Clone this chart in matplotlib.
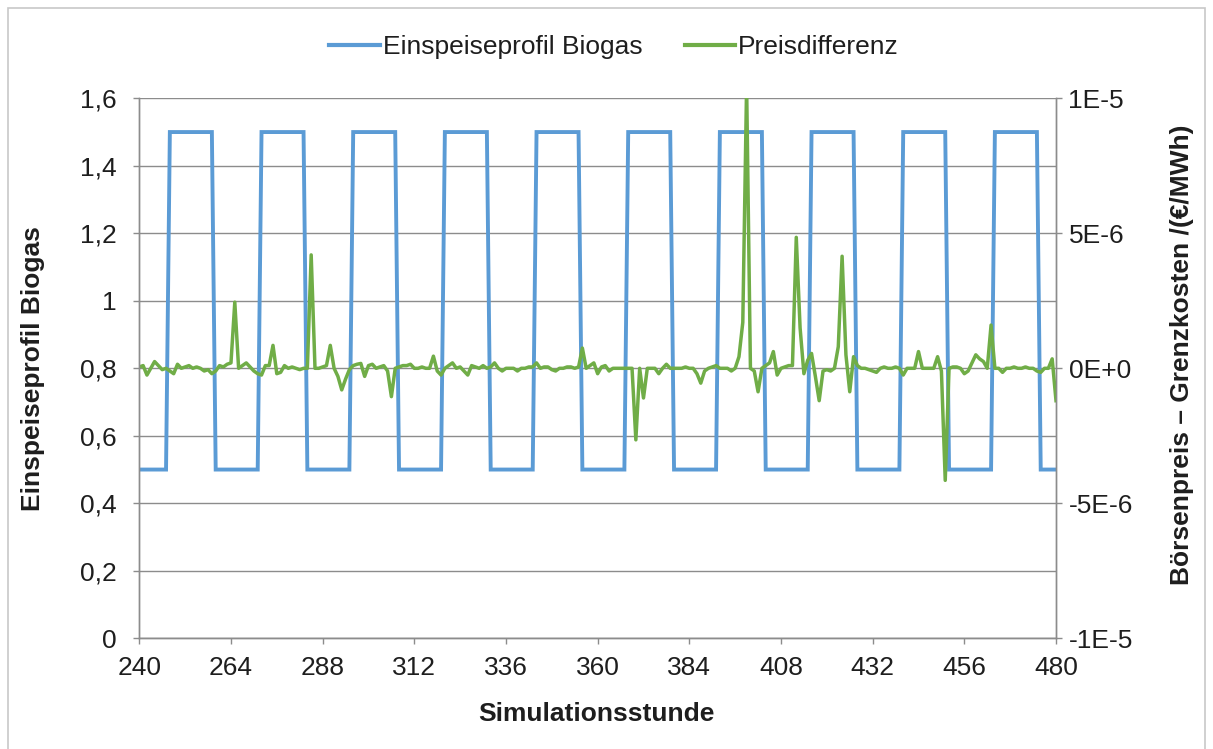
import matplotlib
matplotlib.use("Agg")
import matplotlib.pyplot as plt
from matplotlib.patches import Rectangle

# ---------------- data ----------------
hours = list(range(240, 481))

# Einspeiseprofil Biogas (left axis), one value per simulation hour 240..480
einspeiseprofil = [
    0.5, 0.5, 0.5, 0.5, 0.5, 0.5, 0.5, 0.5,                                  # 240-247
    1.5, 1.5, 1.5, 1.5, 1.5, 1.5, 1.5, 1.5, 1.5, 1.5, 1.5, 1.5,              # 248-259
    0.5, 0.5, 0.5, 0.5, 0.5, 0.5, 0.5, 0.5, 0.5, 0.5, 0.5, 0.5,              # 260-271
    1.5, 1.5, 1.5, 1.5, 1.5, 1.5, 1.5, 1.5, 1.5, 1.5, 1.5, 1.5,              # 272-283
    0.5, 0.5, 0.5, 0.5, 0.5, 0.5, 0.5, 0.5, 0.5, 0.5, 0.5, 0.5,              # 284-295
    1.5, 1.5, 1.5, 1.5, 1.5, 1.5, 1.5, 1.5, 1.5, 1.5, 1.5, 1.5,              # 296-307
    0.5, 0.5, 0.5, 0.5, 0.5, 0.5, 0.5, 0.5, 0.5, 0.5, 0.5, 0.5,              # 308-319
    1.5, 1.5, 1.5, 1.5, 1.5, 1.5, 1.5, 1.5, 1.5, 1.5, 1.5, 1.5,              # 320-331
    0.5, 0.5, 0.5, 0.5, 0.5, 0.5, 0.5, 0.5, 0.5, 0.5, 0.5, 0.5,              # 332-343
    1.5, 1.5, 1.5, 1.5, 1.5, 1.5, 1.5, 1.5, 1.5, 1.5, 1.5, 1.5,              # 344-355
    0.5, 0.5, 0.5, 0.5, 0.5, 0.5, 0.5, 0.5, 0.5, 0.5, 0.5, 0.5,              # 356-367
    1.5, 1.5, 1.5, 1.5, 1.5, 1.5, 1.5, 1.5, 1.5, 1.5, 1.5, 1.5,              # 368-379
    0.5, 0.5, 0.5, 0.5, 0.5, 0.5, 0.5, 0.5, 0.5, 0.5, 0.5, 0.5,              # 380-391
    1.5, 1.5, 1.5, 1.5, 1.5, 1.5, 1.5, 1.5, 1.5, 1.5, 1.5, 1.5,              # 392-403
    0.5, 0.5, 0.5, 0.5, 0.5, 0.5, 0.5, 0.5, 0.5, 0.5, 0.5, 0.5,              # 404-415
    1.5, 1.5, 1.5, 1.5, 1.5, 1.5, 1.5, 1.5, 1.5, 1.5, 1.5, 1.5,              # 416-427
    0.5, 0.5, 0.5, 0.5, 0.5, 0.5, 0.5, 0.5, 0.5, 0.5, 0.5, 0.5,              # 428-439
    1.5, 1.5, 1.5, 1.5, 1.5, 1.5, 1.5, 1.5, 1.5, 1.5, 1.5, 1.5,              # 440-451
    0.5, 0.5, 0.5, 0.5, 0.5, 0.5, 0.5, 0.5, 0.5, 0.5, 0.5, 0.5,              # 452-463
    1.5, 1.5, 1.5, 1.5, 1.5, 1.5, 1.5, 1.5, 1.5, 1.5, 1.5, 1.5,              # 464-475
    0.5, 0.5, 0.5, 0.5, 0.5,                                                 # 476-480
]

# Preisdifferenz (right axis) in units of 1E-6 EUR/MWh, hours 240..480
preisdifferenz_e6 = [
    0.05, 0.1, -0.25, 0.0, 0.25, 0.1, -0.05, 0.0, -0.1, -0.2,      # 240
    0.15, 0.0, 0.05, 0.1, 0.0, 0.05, 0.0, -0.1, -0.05, -0.2,       # 250
    -0.1, 0.1, 0.05, 0.15, 0.2, 2.45, 0.0, 0.1, 0.2, 0.05,         # 260
    -0.1, -0.2, -0.25, 0.1, 0.1, 0.85, -0.2, -0.15, 0.1, 0.0,      # 270
    0.05, 0.0, -0.05, 0.0, 0.0, 4.2, 0.0, 0.0, 0.05, 0.1,          # 280
    0.85, 0.0, -0.3, -0.8, -0.4, -0.05, 0.1, 0.15, 0.18, -0.3,     # 290
    0.1, 0.15, 0.0, 0.05, 0.1, -0.1, -1.05, 0.0, 0.05, 0.1,        # 300
    0.1, 0.15, 0.0, 0.0, 0.05, 0.0, 0.0, 0.45, -0.1, -0.25,        # 310
    0.0, 0.1, 0.2, 0.0, 0.05, -0.1, -0.25, 0.1, 0.05, 0.0,         # 320
    0.1, 0.0, 0.05, 0.2, 0.0, -0.1, 0.0, 0.0, 0.0, -0.1,           # 330
    0.0, 0.0, 0.05, 0.05, 0.2, 0.0, 0.05, 0.05, -0.05, -0.1,       # 340
    0.0, 0.0, 0.05, 0.05, 0.0, 0.05, 0.75, 0.0, 0.1, 0.2,          # 350
    -0.2, 0.05, 0.1, -0.1, 0.0, 0.0, 0.0, 0.0, 0.0, 0.0,           # 360
    -2.65, 0.0, -1.1, 0.0, 0.0, 0.0, -0.2, 0.0, 0.15, 0.0,         # 370
    0.0, 0.0, 0.0, 0.05, 0.0, 0.0, -0.2, -0.55, -0.1, 0.0,         # 380
    0.05, 0.1, 0.0, 0.0, 0.0, -0.1, 0.0, 0.43, 1.7, 10.5,          # 390
    0.0, -0.1, -0.87, 0.0, 0.1, 0.2, 0.62, -0.25, 0.0, 0.05,       # 400
    0.1, 0.1, 4.85, 1.5, -0.2, 0.3, 0.55, -0.3, -1.2, -0.1,        # 410
    -0.05, -0.1, 0.0, 0.8, 4.15, 0.5, -0.87, 0.43, 0.1, 0.0,       # 420
    0.0, -0.05, -0.1, -0.15, 0.0, 0.05, 0.0, 0.0, 0.05, 0.0,       # 430
    -0.25, 0.0, 0.0, 0.0, 0.62, 0.0, 0.0, 0.0, 0.0, 0.43,          # 440
    -0.1, -4.15, 0.0, 0.05, 0.05, 0.0, -0.2, -0.1, 0.2, 0.5,       # 450
    0.35, 0.25, 0.0, 1.6, 0.0, 0.0, -0.15, 0.0, 0.0, 0.05,         # 460
    0.0, 0.0, 0.05, 0.0, 0.0, -0.1, -0.15, 0.0, 0.0, 0.35,         # 470
    -1.2,                                                          # 480
]

x_ticks = [240, 264, 288, 312, 336, 360, 384, 408, 432, 456, 480]
left_ticks = [0, 0.2, 0.4, 0.6, 0.8, 1.0, 1.2, 1.4, 1.6]
left_ticklabels = ["0", "0,2", "0,4", "0,6", "0,8", "1", "1,2", "1,4", "1,6"]
right_ticks = [-10, -5, 0, 5, 10]
right_ticklabels = ["-1E-5", "-5E-6", "0E+0", "5E-6", "1E-5"]

label_blue = "Einspeiseprofil Biogas"
label_green = "Preisdifferenz"
xlabel = "Simulationsstunde"
ylabel_left = "Einspeiseprofil Biogas"
ylabel_right = "Börsenpreis – Grenzkosten /(€/MWh)"

# ---------------- style ----------------
plt.rcParams['font.family'] = ['Liberation Sans', 'DejaVu Sans']
FS = 19
TXT = '#1e1e1e'
GRID = '#8c8c8c'
BLUE = '#5B9BD5'
GREEN = '#70AD47'

W, H = 1213, 749
fig = plt.figure(figsize=(W / 100, H / 100), dpi=100)
fig.patch.set_facecolor('white')

# outer chart border
fig.add_artist(Rectangle((8 / W, -0.05), (1205 - 8) / W, 1.05 - 8 / H,
                         transform=fig.transFigure, fill=False,
                         edgecolor='#c8c8c8', linewidth=1.2))

l, r, t, b = 139.3, 1056.0, 98.3, 638.3
ax = fig.add_axes([l / W, 1 - b / H, (r - l) / W, (b - t) / H])
ax2 = ax.twinx()

ax.plot(hours, einspeiseprofil, color=BLUE, linewidth=2.8, solid_joinstyle='miter')
ax2.plot(hours, preisdifferenz_e6, color=GREEN, linewidth=2.5)

ax.set_xlim(240, 480)
ax.set_ylim(0, 1.6)
ax2.set_ylim(-10, 10)

ax.set_xticks(x_ticks)
ax.set_xticklabels([str(v) for v in x_ticks])
ax.set_yticks(left_ticks)
ax.set_yticklabels(left_ticklabels)
ax2.set_yticks(right_ticks)
ax2.set_yticklabels(right_ticklabels)

ax.grid(axis='y', color=GRID, linewidth=1.0)
ax.set_axisbelow(True)

for a in (ax, ax2):
    for side in ('left', 'right', 'bottom'):
        a.spines[side].set_color(GRID)
        a.spines[side].set_linewidth(1.0)
    a.spines['top'].set_visible(False)

ax.tick_params(axis='x', direction='out', length=4, width=1, color=GRID,
               labelsize=FS, labelcolor=TXT, pad=9)
ax.tick_params(axis='y', direction='out', length=4, width=1, color=GRID,
               labelsize=FS, labelcolor=TXT, pad=12)
ax2.tick_params(axis='y', direction='out', length=4, width=1, color=GRID,
                labelsize=FS, labelcolor=TXT, pad=5)

ax.set_xlabel(xlabel, fontsize=FS, fontweight='bold', color=TXT)
ax.xaxis.set_label_coords(0.499, -0.118)
ax.set_ylabel(ylabel_left, fontsize=FS, fontweight='bold', color=TXT)
ax.yaxis.set_label_coords(-0.103, 0.5)
ax2.set_ylabel(ylabel_right, fontsize=FS, fontweight='bold', color=TXT)
ax2.yaxis.set_label_coords(1.124, 0.525)

h1, = ax.plot([], [], color=BLUE, linewidth=3)
h2, = ax.plot([], [], color=GREEN, linewidth=3)
fig.legend([h1, h2], [label_blue, label_green], loc='center',
           bbox_to_anchor=(614 / W, 1 - 47 / H), ncol=2, frameon=False,
           fontsize=FS, handlelength=1.9, handletextpad=0.12,
           columnspacing=1.6, labelcolor=TXT)

fig.savefig('out.png', dpi=100, facecolor='white')
